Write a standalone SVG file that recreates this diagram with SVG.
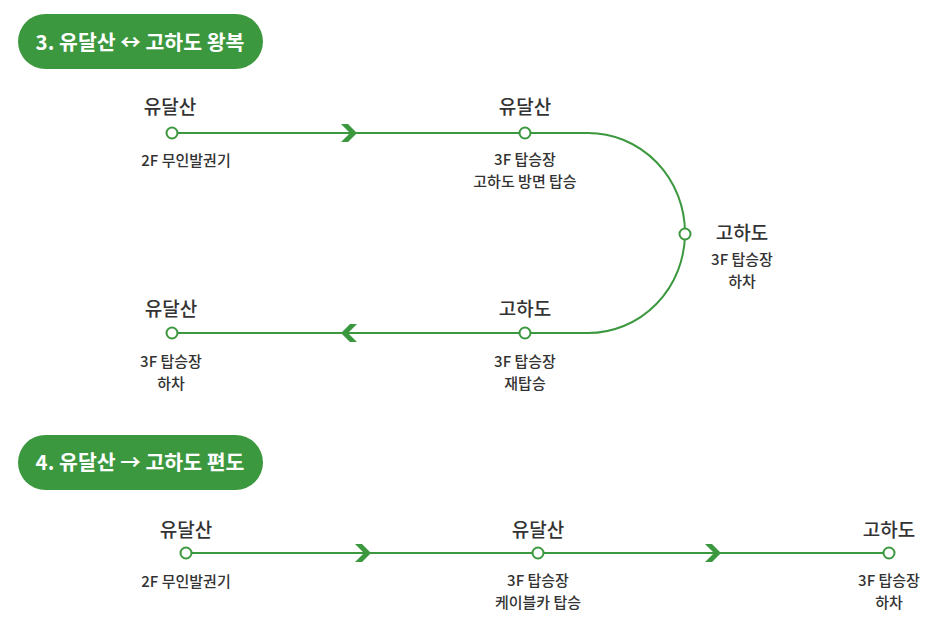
<svg xmlns="http://www.w3.org/2000/svg" width="937" height="640" viewBox="0 0 937 640">
<defs>
<style>
.pill{fill:#3c983f}
.pt{fill:#fff;font-family:"Noto Sans CJK KR","Noto Sans",sans-serif;font-size:20.5px;font-weight:700;text-anchor:middle}
.ln{fill:none;stroke:#3c983f;stroke-width:2}
.nd{fill:#fff;stroke:#3c983f;stroke-width:2}
.nm{fill:#333;font-family:"Noto Sans CJK KR","Noto Sans",sans-serif;font-size:19px;font-weight:500;text-anchor:middle}
.sb{fill:#333;font-family:"Noto Sans CJK KR","Noto Sans",sans-serif;font-size:15px;font-weight:500;text-anchor:middle}
.ar{fill:#3c983f}
</style>
<polygon id="chev" points="-8,-9 -1,-9 8,0 -1,9 -8,9 1,0"/>
</defs>
<rect width="937" height="640" fill="#fff"/>
<g id="title3"><rect class="pill" x="18" y="14" width="245" height="55" rx="27.5"/><text class="pt" x="140" y="50">3. 유달산 ↔ 고하도 왕복</text></g>
<g id="title4"><rect class="pill" x="18" y="435" width="245" height="55" rx="27.5"/><text class="pt" x="140" y="470">4. 유달산 → 고하도 편도</text></g>
<g id="connectors">
<path class="ln" d="M172 133 H588 A97 100 0 0 1 588 333 H172"/>
<use href="#chev" class="ar" x="349" y="133"/>
<use href="#chev" class="ar" transform="translate(349 333) rotate(180)"/>
<path class="ln" d="M186 553 H889"/>
<use href="#chev" class="ar" x="363" y="553"/>
<use href="#chev" class="ar" x="713" y="553"/>
</g>
<g id="n1"><circle class="nd" cx="172" cy="133" r="5.5"/><text class="nm" x="170" y="114">유달산</text><text class="sb" x="186" y="166">2F 무인발권기</text></g>
<g id="n2"><circle class="nd" cx="525" cy="133" r="5.5"/><text class="nm" x="525" y="114">유달산</text><text class="sb" x="525" y="165">3F 탑승장</text><text class="sb" x="525" y="187">고하도 방면 탑승</text></g>
<g id="n3"><circle class="nd" cx="685" cy="234" r="5.5"/><text class="nm" x="742" y="240">고하도</text><text class="sb" x="742" y="265">3F 탑승장</text><text class="sb" x="742" y="287">하차</text></g>
<g id="n4"><circle class="nd" cx="525" cy="333" r="5.5"/><text class="nm" x="525" y="316">고하도</text><text class="sb" x="525" y="367">3F 탑승장</text><text class="sb" x="525" y="389">재탑승</text></g>
<g id="n5"><circle class="nd" cx="172" cy="333" r="5.5"/><text class="nm" x="171" y="316">유달산</text><text class="sb" x="171" y="367">3F 탑승장</text><text class="sb" x="171" y="389">하차</text></g>
<g id="n6"><circle class="nd" cx="186" cy="553" r="5.5"/><text class="nm" x="186" y="537">유달산</text><text class="sb" x="186" y="587">2F 무인발권기</text></g>
<g id="n7"><circle class="nd" cx="538" cy="553" r="5.5"/><text class="nm" x="538" y="537">유달산</text><text class="sb" x="538" y="586">3F 탑승장</text><text class="sb" x="538" y="608">케이블카 탑승</text></g>
<g id="n8"><circle class="nd" cx="889" cy="553" r="5.5"/><text class="nm" x="889" y="537">고하도</text><text class="sb" x="889" y="586">3F 탑승장</text><text class="sb" x="889" y="608">하차</text></g>
</svg>
